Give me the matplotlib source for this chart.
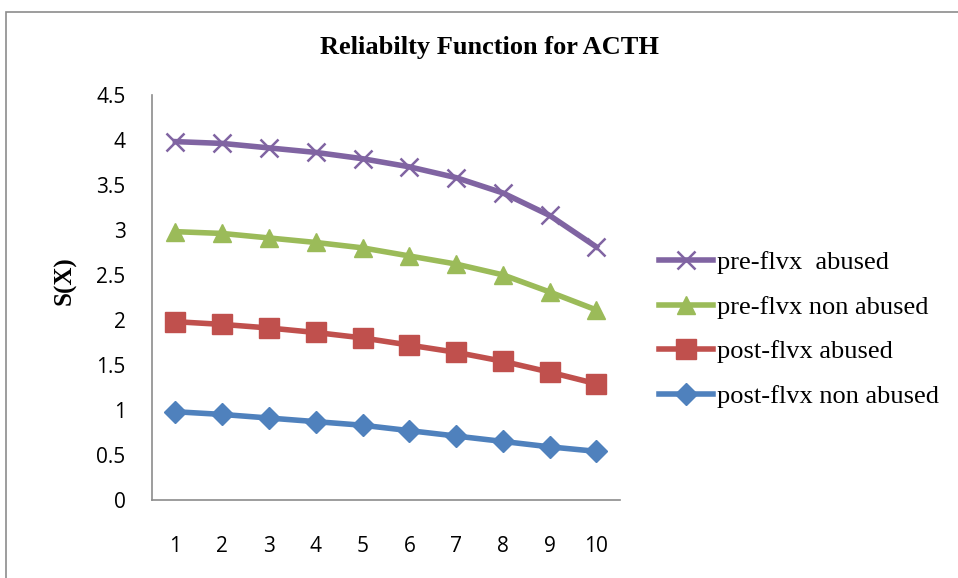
import matplotlib
matplotlib.use("Agg")
import matplotlib.pyplot as plt
from matplotlib.patches import Rectangle

# data
x = [1, 2, 3, 4, 5, 6, 7, 8, 9, 10]
pre_abused = [3.98, 3.96, 3.91, 3.86, 3.79, 3.70, 3.58, 3.41, 3.16, 2.81]
pre_non_abused = [2.98, 2.96, 2.91, 2.86, 2.80, 2.71, 2.62, 2.50, 2.31, 2.11]
post_abused = [1.98, 1.95, 1.91, 1.86, 1.80, 1.72, 1.64, 1.54, 1.42, 1.29]
post_non_abused = [0.98, 0.95, 0.91, 0.87, 0.83, 0.77, 0.71, 0.65, 0.59, 0.54]
labels = ['pre-flvx  abused', 'pre-flvx non abused', 'post-flvx abused', 'post-flvx non abused']

fig = plt.figure(figsize=(9.58, 5.78), dpi=100)
ax = fig.add_axes([0.1587, 0.135, 0.4883, 0.701])

ax.plot(x, pre_abused, color='#8064A2', lw=4, marker='x', ms=13, mew=1.8, label=labels[0])
ax.plot(x, pre_non_abused, color='#9BBB59', lw=4, marker='^', ms=13, label=labels[1])
ax.plot(x, post_abused, color='#C0504D', lw=4, marker='s', ms=14, label=labels[2])
ax.plot(x, post_non_abused, color='#4F81BD', lw=4, marker='D', ms=11, label=labels[3])

ax.set_xlim(0.5, 10.5)
ax.set_ylim(0, 4.5)
ax.set_xticks(x)
ax.set_yticks([0, 0.5, 1, 1.5, 2, 2.5, 3, 3.5, 4, 4.5])
ax.set_yticklabels(['0', '0.5', '1', '1.5', '2', '2.5', '3', '3.5', '4', '4.5'])
for lab in ax.get_xticklabels() + ax.get_yticklabels():
    lab.set_fontfamily('Open Sans')
    lab.set_fontsize(15)
ax.tick_params(length=0)
ax.tick_params(axis='y', pad=19)
ax.tick_params(axis='x', pad=26)
for s in ['top', 'right']:
    ax.spines[s].set_visible(False)
for s in ['left', 'bottom']:
    ax.spines[s].set_color('#8c8c8c')
    ax.spines[s].set_linewidth(1.2)

fig.text(0.511, 0.918, 'Reliabilty Function for ACTH', ha='center', va='center',
         fontfamily='Liberation Serif', fontweight='bold', fontsize=19)
fig.text(0.068, 0.515, 'S(X)', ha='center', va='center', rotation=90,
         fontfamily='Liberation Serif', fontweight='bold', fontsize=18)

fig.legend(loc='center left', bbox_to_anchor=(659 / 958, 0.43), frameon=False,
           prop={'family': 'Liberation Serif', 'size': 19}, handlelength=2.05,
           handletextpad=0.15, labelspacing=0.8, borderpad=0, borderaxespad=0)

# chart frame (clipped at right and bottom like the source)
fig.patches.append(Rectangle((6 / 958, -0.1), 1.2, 1 - 12 / 578 + 0.1, transform=fig.transFigure,
                             fill=False, edgecolor='#8c8c8c', lw=1.2))

fig.savefig('out.png', dpi=100)
